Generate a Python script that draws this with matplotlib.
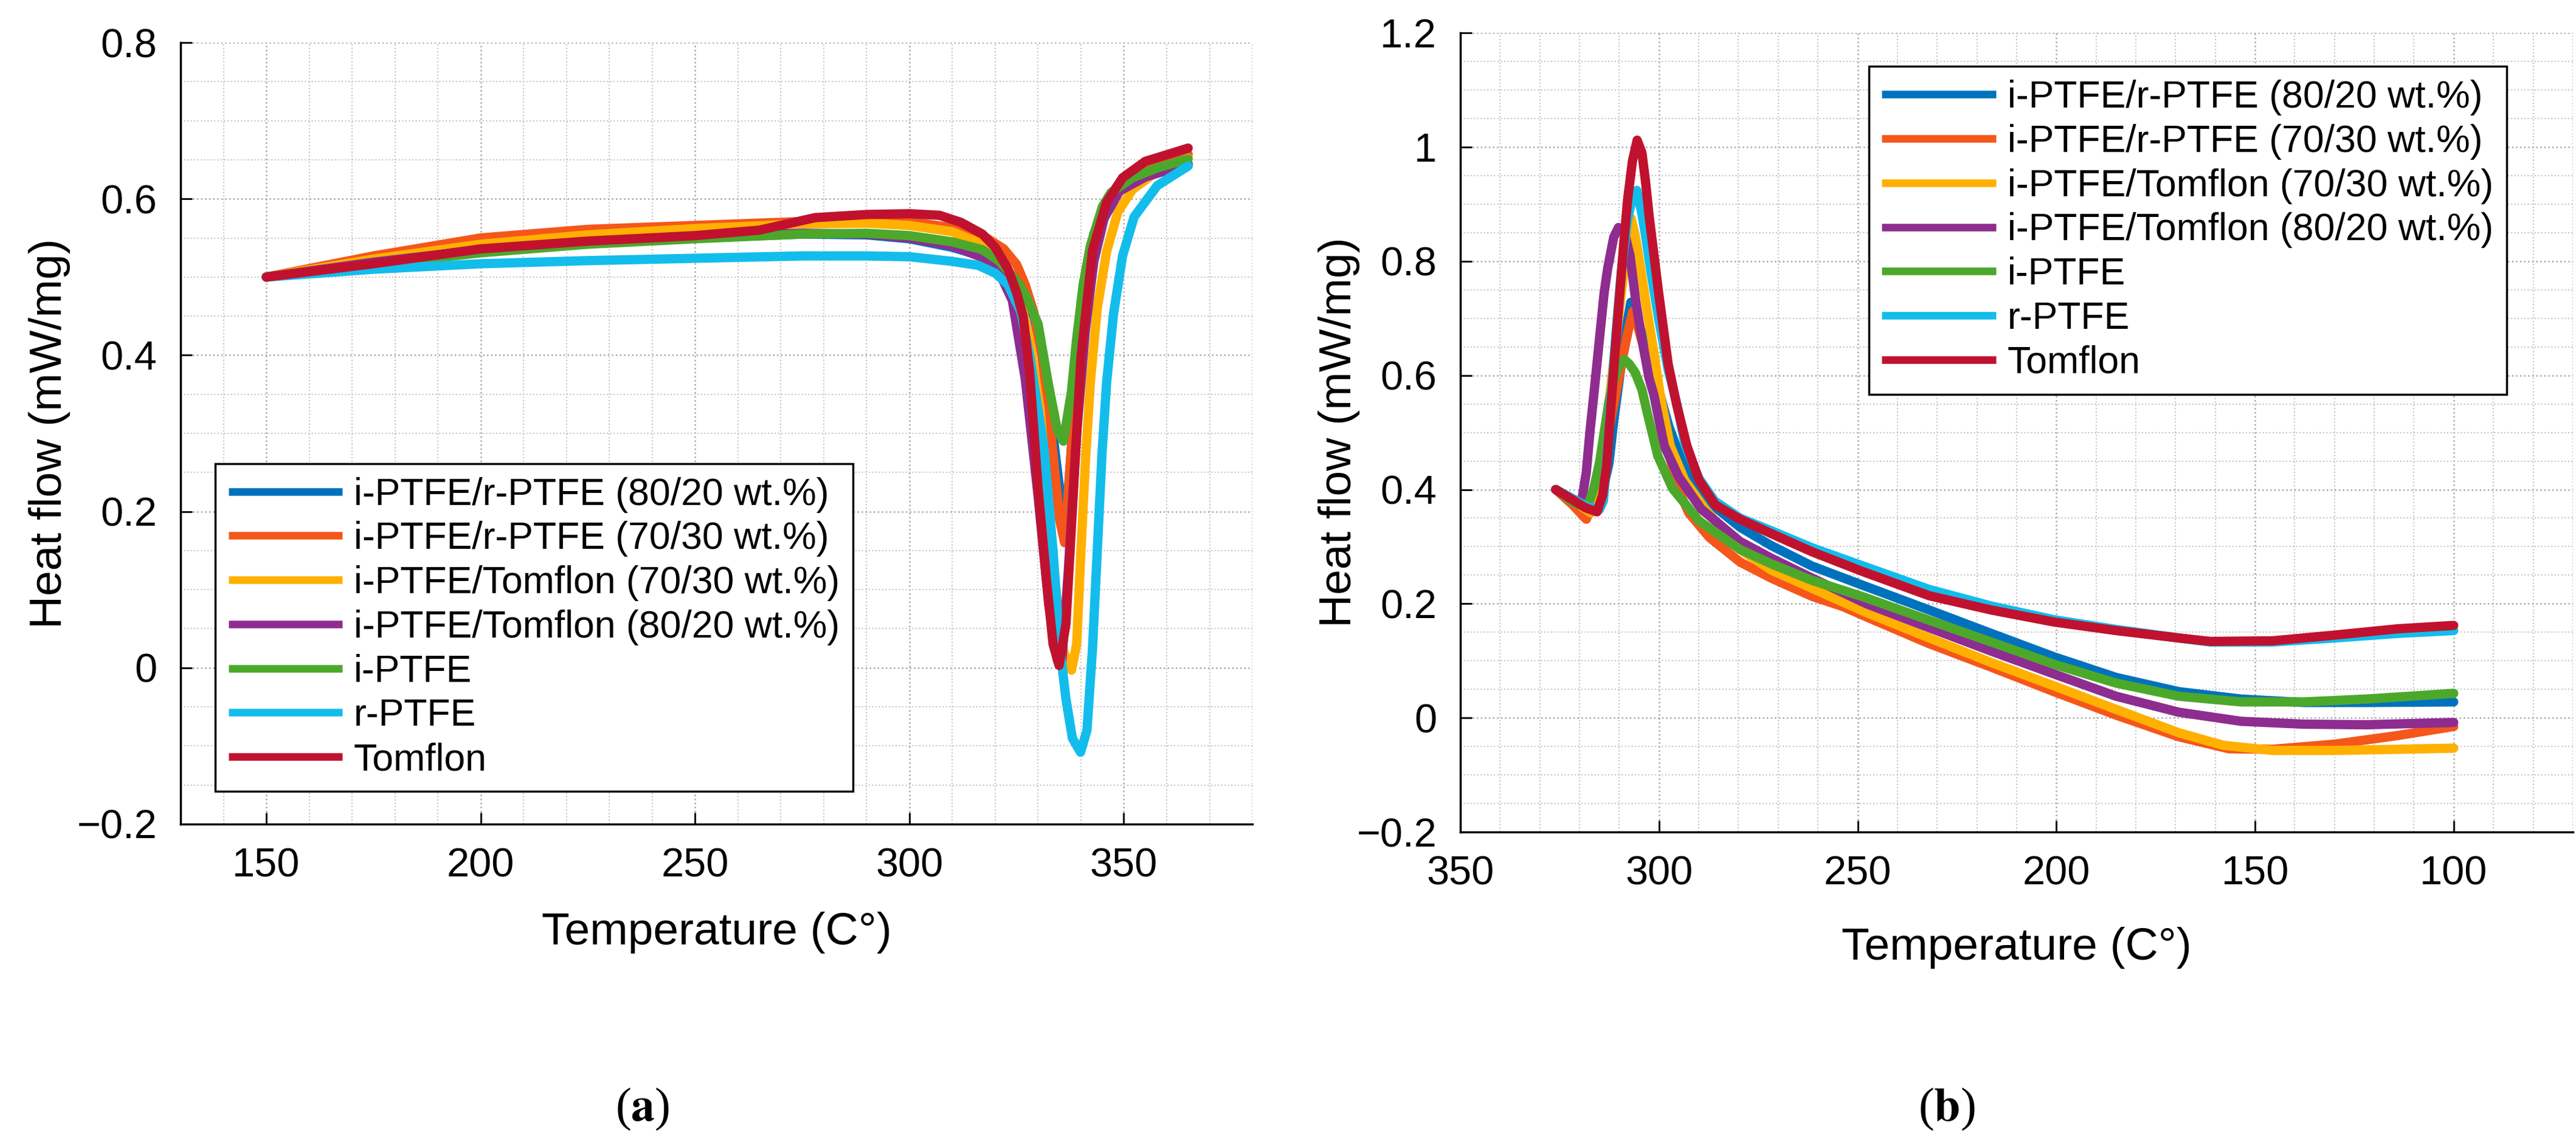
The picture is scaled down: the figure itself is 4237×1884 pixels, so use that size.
import numpy as np
import matplotlib.pyplot as plt
from matplotlib.ticker import MultipleLocator

plt.rcParams['font.family'] = ['Liberation Sans', 'DejaVu Sans']
plt.rcParams['mathtext.fontset'] = 'stix'

### series names / colours (same order in both panels)
labels = ['i-PTFE/r-PTFE (80/20 wt.%)', 'i-PTFE/r-PTFE (70/30 wt.%)',
          'i-PTFE/Tomflon (70/30 wt.%)', 'i-PTFE/Tomflon (80/20 wt.%)',
          'i-PTFE', 'r-PTFE', 'Tomflon']
colors = ['#0072BD', '#F5561A', '#FFB000', '#8E2C90', '#4CA82B', '#12BDEB', '#C0122F']

### (a) heating
a_blue_T = [150, 175, 200, 225, 250, 275, 290, 300, 310, 318, 322, 326, 329, 331, 333, 335, 336.5, 338, 339.5, 341, 343, 346, 350, 355, 360, 365]
a_blue_v = [0.500, 0.518, 0.533, 0.543, 0.550, 0.555, 0.554, 0.549, 0.538, 0.525, 0.510, 0.485, 0.450, 0.400, 0.320, 0.230, 0.180, 0.300, 0.410, 0.490, 0.555, 0.595, 0.615, 0.628, 0.637, 0.643]

a_orange_T = [150, 175, 200, 225, 250, 275, 290, 300, 310, 318, 322, 325, 327, 329, 331, 333, 335, 336.2, 337.5, 339, 341, 344, 348, 353, 358, 365]
a_orange_v = [0.500, 0.527, 0.550, 0.561, 0.566, 0.571, 0.573, 0.571, 0.563, 0.550, 0.536, 0.516, 0.490, 0.455, 0.395, 0.300, 0.190, 0.160, 0.260, 0.370, 0.490, 0.570, 0.612, 0.632, 0.643, 0.657]

a_yellow_T = [150, 175, 200, 225, 250, 275, 290, 300, 310, 318, 322, 325, 328, 330.5, 332.5, 334.5, 336, 337.8, 339, 340, 341.1, 342.2, 343.8, 346, 348.6, 352, 357, 365]
a_yellow_v = [0.500, 0.523, 0.542, 0.554, 0.562, 0.568, 0.569, 0.566, 0.558, 0.540, 0.518, 0.490, 0.420, 0.330, 0.200, 0.080, 0.020, -0.003, 0.030, 0.150, 0.270, 0.366, 0.460, 0.533, 0.583, 0.612, 0.632, 0.652]

a_purple_T = [150, 175, 200, 225, 250, 275, 290, 300, 310, 317, 321, 324, 327, 330, 332.5, 334.5, 335.5, 337, 339, 341, 343, 345.4, 349, 355, 365]
a_purple_v = [0.500, 0.519, 0.535, 0.545, 0.552, 0.556, 0.555, 0.550, 0.540, 0.525, 0.505, 0.470, 0.370, 0.220, 0.080, 0.010, 0.005, 0.120, 0.300, 0.430, 0.520, 0.575, 0.610, 0.628, 0.645]

a_green_T = [150, 175, 200, 225, 250, 275, 290, 300, 310, 317, 321, 325, 327, 330, 332.3, 334.5, 335.9, 337.8, 338.9, 340.5, 342.2, 345, 347, 352, 358, 365]
a_green_v = [0.500, 0.516, 0.531, 0.542, 0.549, 0.555, 0.556, 0.553, 0.545, 0.535, 0.520, 0.495, 0.478, 0.440, 0.366, 0.304, 0.290, 0.354, 0.416, 0.490, 0.540, 0.590, 0.608, 0.627, 0.640, 0.651]

a_cyan_T = [150, 175, 200, 225, 250, 275, 290, 300, 310, 316, 320, 323, 326, 328, 330, 331.4, 333.5, 335.1, 336.5, 338, 339.9, 341.4, 342.7, 343.8, 344.9, 346, 347.6, 349.7, 352.4, 357.8, 365]
a_cyan_v = [0.500, 0.510, 0.517, 0.521, 0.524, 0.527, 0.527, 0.526, 0.520, 0.515, 0.505, 0.490, 0.455, 0.400, 0.330, 0.280, 0.149, 0.025, -0.040, -0.090, -0.108, -0.080, 0.025, 0.149, 0.273, 0.366, 0.453, 0.527, 0.577, 0.617, 0.642]

a_red_T = [150, 175, 200, 225, 250, 265, 278, 290, 300, 307, 312, 317, 320, 323, 325, 326.5, 328, 330, 332, 333.5, 334.9, 336.5, 338.4, 340, 342.7, 346, 349.7, 355, 365]
a_red_v = [0.500, 0.517, 0.536, 0.546, 0.553, 0.560, 0.576, 0.580, 0.581, 0.579, 0.570, 0.555, 0.538, 0.510, 0.480, 0.450, 0.380, 0.230, 0.110, 0.030, 0.003, 0.056, 0.242, 0.397, 0.534, 0.596, 0.627, 0.648, 0.665]

### (b) cooling
b_blue_T = [326, 322, 319.8, 316.2, 314.4, 312.6, 311.4, 310.2, 308.5, 307.1, 305.5, 303.5, 301.5, 299.5, 297.5, 295.1, 291.5, 287.3, 279.6, 271.8, 261.5, 248.6, 232, 216.4, 200.6, 185, 169.2, 153.5, 137.7, 122, 100]
b_blue_v = [0.400, 0.385, 0.375, 0.367, 0.390, 0.446, 0.520, 0.582, 0.674, 0.728, 0.700, 0.655, 0.610, 0.560, 0.510, 0.465, 0.416, 0.377, 0.334, 0.302, 0.266, 0.232, 0.189, 0.148, 0.107, 0.071, 0.046, 0.033, 0.027, 0.027, 0.028]

b_orange_T = [326, 322, 318.3, 316.5, 315, 313.5, 312, 310.5, 309, 307.7, 306.6, 305.5, 303.5, 301.5, 299.5, 297, 294.8, 292.5, 287.3, 279.6, 271.8, 261.5, 253.7, 247.8, 232, 216.4, 200.6, 185, 169.2, 156.6, 145.6, 129.9, 114.2, 100]
b_orange_v = [0.400, 0.375, 0.348, 0.380, 0.418, 0.470, 0.527, 0.580, 0.636, 0.680, 0.712, 0.690, 0.640, 0.585, 0.520, 0.450, 0.395, 0.359, 0.316, 0.273, 0.245, 0.213, 0.195, 0.177, 0.130, 0.089, 0.046, 0.005, -0.033, -0.054, -0.055, -0.046, -0.031, -0.015]

b_yellow_T = [326, 322, 319, 317.1, 315.5, 313.8, 312.3, 310.8, 309.5, 308.5, 307.7, 307, 306, 304.9, 303.1, 301.5, 299.7, 297.2, 293.5, 288.4, 279.6, 271.8, 261.5, 248, 232, 216.4, 200.6, 185, 169.2, 158, 145.6, 129.9, 114.2, 100]
b_yellow_v = [0.400, 0.383, 0.368, 0.359, 0.400, 0.473, 0.570, 0.663, 0.745, 0.800, 0.845, 0.875, 0.845, 0.800, 0.717, 0.650, 0.566, 0.477, 0.416, 0.366, 0.295, 0.259, 0.227, 0.185, 0.140, 0.097, 0.056, 0.015, -0.026, -0.048, -0.057, -0.057, -0.055, -0.053]

b_purple_T = [326, 322.5, 319.5, 318.3, 317.4, 316.2, 315, 313.8, 312.9, 311.4, 310.2, 309.2, 308.5, 307.3, 305.8, 304.3, 302.5, 301.3, 298.7, 295.1, 289.4, 279.6, 271.8, 261.5, 247.8, 232, 216.4, 200.6, 185, 169.2, 153.5, 137.7, 122, 100]
b_purple_v = [0.400, 0.385, 0.378, 0.430, 0.500, 0.580, 0.663, 0.745, 0.788, 0.842, 0.859, 0.855, 0.845, 0.810, 0.728, 0.663, 0.595, 0.566, 0.477, 0.423, 0.366, 0.309, 0.280, 0.245, 0.200, 0.158, 0.117, 0.077, 0.038, 0.010, -0.006, -0.011, -0.012, -0.008]

b_green_T = [326, 321, 318, 316.5, 315, 313.8, 312.6, 311.4, 310.2, 308.8, 307.5, 306, 304.3, 302.8, 300.3, 296.6, 289.9, 279.6, 271.8, 261.5, 248.6, 232, 216.4, 200.6, 185, 169.2, 153.5, 137.7, 122, 100]
b_green_v = [0.400, 0.375, 0.370, 0.400, 0.446, 0.500, 0.554, 0.590, 0.615, 0.628, 0.620, 0.605, 0.575, 0.530, 0.459, 0.402, 0.345, 0.295, 0.270, 0.241, 0.212, 0.171, 0.133, 0.094, 0.061, 0.038, 0.028, 0.028, 0.033, 0.043]

b_cyan_T = [326, 322, 318, 315, 314, 313.5, 312.5, 311, 309.5, 308, 306.6, 305.6, 304.5, 303.5, 302, 300.1, 297.7, 295.5, 293.5, 290, 286, 279.6, 271.8, 261.5, 248.6, 232, 216.4, 200.6, 185, 169.2, 161.3, 145.6, 130, 114.2, 100]
b_cyan_v = [0.400, 0.385, 0.370, 0.365, 0.380, 0.420, 0.520, 0.660, 0.780, 0.870, 0.915, 0.924, 0.890, 0.850, 0.780, 0.700, 0.610, 0.550, 0.480, 0.420, 0.380, 0.350, 0.328, 0.298, 0.266, 0.225, 0.196, 0.172, 0.155, 0.140, 0.133, 0.133, 0.140, 0.148, 0.153]

b_red_T = [326, 322, 318.5, 315.6, 314.2, 313.2, 312.6, 311.4, 310.2, 309, 307.9, 306.7, 305.5, 304.3, 303.4, 302.5, 300.1, 297.7, 295.6, 293, 289.9, 285.8, 279.6, 271.8, 261.5, 248.6, 232, 216.4, 200.6, 185, 169.2, 161.3, 145.6, 130, 114.2, 100]
b_red_v = [0.400, 0.383, 0.368, 0.361, 0.390, 0.440, 0.500, 0.610, 0.717, 0.820, 0.908, 0.975, 1.012, 0.990, 0.940, 0.880, 0.745, 0.620, 0.550, 0.477, 0.416, 0.373, 0.348, 0.323, 0.291, 0.256, 0.214, 0.189, 0.168, 0.153, 0.140, 0.134, 0.135, 0.145, 0.156, 0.162]

a_series = [(a_blue_T, a_blue_v), (a_orange_T, a_orange_v), (a_yellow_T, a_yellow_v),
            (a_purple_T, a_purple_v), (a_green_T, a_green_v), (a_cyan_T, a_cyan_v),
            (a_red_T, a_red_v)]
b_series = [(b_blue_T, b_blue_v), (b_orange_T, b_orange_v), (b_yellow_T, b_yellow_v),
            (b_purple_T, b_purple_v), (b_green_T, b_green_v), (b_cyan_T, b_cyan_v),
            (b_red_T, b_red_v)]

a_xticks = [150, 200, 250, 300, 350]
a_yticks = [-0.2, 0, 0.2, 0.4, 0.6, 0.8]
a_yticklabels = ['\u22120.2', '0', '0.2', '0.4', '0.6', '0.8']
b_xticks = [350, 300, 250, 200, 150, 100]
b_yticks = [-0.2, 0, 0.2, 0.4, 0.6, 0.8, 1.0, 1.2]
b_yticklabels = ['\u22120.2', '0', '0.2', '0.4', '0.6', '0.8', '1', '1.2']

fig = plt.figure(figsize=(42.37, 18.84), dpi=100)
ax1 = fig.add_axes([0.0701, 0.2803, 0.4161, 0.6825])
ax2 = fig.add_axes([0.5669, 0.2733, 0.4319, 0.6980])


def setup(ax, xt, yt, ytl):
    ax.set_axisbelow(True)
    ax.set_xticks(xt)
    ax.set_xticklabels([str(t) for t in xt])
    ax.set_yticks(yt)
    ax.set_yticklabels(ytl)
    ax.xaxis.set_minor_locator(MultipleLocator(10))
    ax.yaxis.set_minor_locator(MultipleLocator(0.05))
    ax.grid(True, which='major', linestyle=':', color='#a8a8a8', lw=1.8)
    ax.grid(True, which='minor', linestyle=':', color='#c4c4c4', lw=1.5)
    for s in ['top', 'right']:
        ax.spines[s].set_visible(False)
    for s in ['left', 'bottom']:
        ax.spines[s].set_linewidth(2.5)
    ax.tick_params(which='major', direction='in', length=14, width=2,
                   labelsize=48, pad=28)
    ax.tick_params(which='minor', length=0)


for ax, series in [(ax1, a_series), (ax2, b_series)]:
    for (T, v), c, lab in zip(series, colors, labels):
        ax.plot(T, v, color=c, lw=11, label=lab, solid_capstyle='round',
                solid_joinstyle='round')

setup(ax1, a_xticks, a_yticks, a_yticklabels)
ax1.set_xlim(130, 380)
ax1.set_ylim(-0.2, 0.8)

setup(ax2, b_xticks, b_yticks, b_yticklabels)
ax2.set_xlim(350, 70)
ax2.set_ylim(-0.2, 1.2)

for ax, xl_y, yl_x in [(ax1, -0.139, -0.122), (ax2, -0.145, -0.109)]:
    ax.set_xlabel('Temperature (C\u00b0)', fontsize=54)
    ax.set_ylabel('Heat flow (mW/mg)', fontsize=54, va='center')
    ax.xaxis.set_label_coords(0.5, xl_y)
    ax.yaxis.set_label_coords(yl_x, 0.5)
    ax.xaxis.label.set_va('center')

leg_kw = dict(fontsize=45, frameon=True, fancybox=False, framealpha=1,
              edgecolor='black', handlelength=3.0, handletextpad=0.3,
              labelspacing=0.22, borderpad=0.35, borderaxespad=0)
leg1 = ax1.legend(loc='lower left', bbox_to_anchor=(0.0323, 0.042), **leg_kw)
leg2 = ax2.legend(loc='upper left', bbox_to_anchor=(0.367, 0.958), **leg_kw)
for leg in (leg1, leg2):
    leg.get_frame().set_linewidth(2.5)
    for h in leg.get_lines():
        h.set_linewidth(9)
        h.set_solid_capstyle('butt')

fig.text(0.2495, 0.031, '(' + r'$\mathbf{a}$' + ')', fontsize=56,
         family='Liberation Serif', ha='center', va='center')
fig.text(0.7557, 0.031, '(' + r'$\mathbf{b}$' + ')', fontsize=56,
         family='Liberation Serif', ha='center', va='center')

fig.savefig('out.png', dpi=100)
